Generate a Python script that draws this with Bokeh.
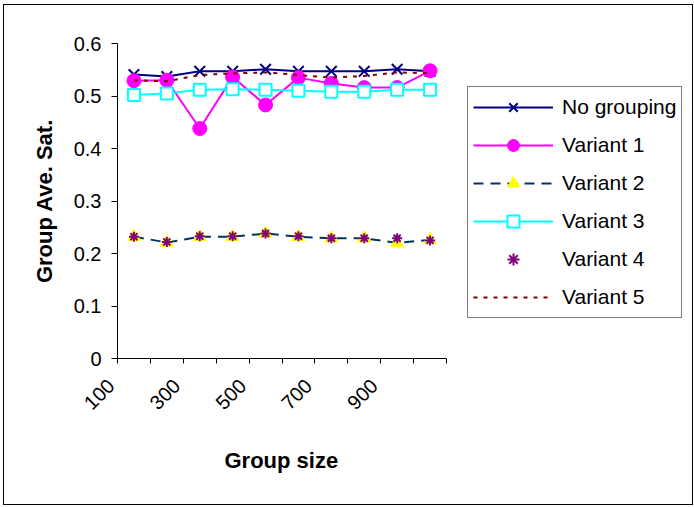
from bokeh.plotting import figure
from bokeh.models import Range1d, FixedTicker, CustomJSTickFormatter, Legend, LegendItem, Title
from bokeh.embed import file_html
from bokeh.resources import INLINE
import math

# ---- data ----
group_sizes = [100, 200, 300, 400, 500, 600, 700, 800, 900, 1000]
x_labels = ["100", "300", "500", "700", "900"]
no_grouping = [0.541, 0.537, 0.547, 0.547, 0.551, 0.547, 0.547, 0.547, 0.551, 0.547]
variant1 = [0.529, 0.530, 0.438, 0.536, 0.483, 0.535, 0.524, 0.516, 0.516, 0.548]
variant2 = [0.232, 0.221, 0.232, 0.232, 0.238, 0.232, 0.229, 0.229, 0.220, 0.226]
variant3 = [0.502, 0.505, 0.512, 0.513, 0.512, 0.510, 0.508, 0.508, 0.512, 0.512]
variant4 = [0.232, 0.222, 0.233, 0.233, 0.238, 0.233, 0.229, 0.229, 0.229, 0.225]
variant5 = [0.530, 0.528, 0.540, 0.543, 0.545, 0.540, 0.535, 0.538, 0.545, 0.543]
y_ticks = [0, 0.1, 0.2, 0.3, 0.4, 0.5, 0.6]

# category positions (centres of category slots)
n_cat = len(group_sizes)
xs = [i + 0.5 for i in range(n_cat)]

FONT = "Liberation Sans"

# layout (pixels)
W, H = 690, 501
MB_LEFT, MB_TOP, MB_RIGHT = 113, 38, 1
PLOT_W, PLOT_H = 329, 315
frame_w = W - MB_LEFT - MB_RIGHT
x_end = n_cat * frame_w / PLOT_W   # frame extends under the legend; axis bounded to categories
LABEL_SHIFT = 0.04                 # anchor of the rotated tick labels inside each category

p = figure(width=W, height=H, x_range=Range1d(0, x_end), y_range=Range1d(0, 0.6),
           output_backend="svg", toolbar_location=None,
           min_border_left=MB_LEFT, min_border_top=MB_TOP, min_border_right=MB_RIGHT,
           min_border_bottom=H - MB_TOP - PLOT_H)
p.styles = {"border": "1px solid #000000", "margin-left": "3px", "margin-top": "4px"}
p.outline_line_color = None
p.xgrid.grid_line_color = None
p.ygrid.grid_line_color = None
p.background_fill_color = "white"
p.border_fill_color = "white"

# x axis
xa = p.xaxis[0]
xa.bounds = (0, n_cat)
label_ticks = [group_sizes.index(int(s)) + LABEL_SHIFT for s in x_labels]
xa.ticker = FixedTicker(ticks=label_ticks, minor_ticks=list(range(n_cat + 1)))
xa.formatter = CustomJSTickFormatter(
    args=dict(sizes=group_sizes),
    code="return String(sizes[Math.round(tick - (%f))]) + '\\u00a0\\u00a0';" % LABEL_SHIFT)
xa.major_tick_in = 0
xa.major_tick_out = 0
xa.major_tick_line_color = None
xa.minor_tick_in = 0
xa.minor_tick_out = 5
xa.minor_tick_line_color = "black"
xa.axis_line_color = "black"
xa.major_label_orientation = math.pi / 4
xa.major_label_text_font = FONT
xa.major_label_text_font_size = "20px"
xa.major_label_text_color = "black"
xa.major_label_standoff = 11

x_title = Title(text="Group size", align="left", offset=107, standoff=42,
                text_font=FONT, text_font_size="22px", text_font_style="bold", text_color="black")
p.add_layout(x_title, "below")

# y axis
ya = p.yaxis[0]
ya.ticker = FixedTicker(ticks=y_ticks, minor_ticks=[])
ya.formatter = CustomJSTickFormatter(code="return tick == 0 ? '0' : tick.toFixed(1);")
ya.major_tick_in = 0
ya.major_tick_out = 6
ya.major_tick_line_color = "black"
ya.axis_line_color = "black"
ya.major_label_text_font = FONT
ya.major_label_text_font_size = "20px"
ya.major_label_text_color = "black"
ya.major_label_standoff = 10
ya.axis_label = "Group Ave. Sat."
ya.axis_label_text_font = FONT
ya.axis_label_text_font_size = "22px"
ya.axis_label_text_font_style = "bold"
ya.axis_label_text_color = "black"
ya.axis_label_standoff = 14

# series
l0 = p.line(xs, no_grouping, line_color="#000080", line_width=2)
m0 = p.scatter(xs, no_grouping, marker="x", size=15, line_color="#000080", line_width=2)

l1 = p.line(xs, variant1, line_color="#FF00FF", line_width=2)
m1 = p.scatter(xs, variant1, marker="circle", size=14, line_color="#FF00FF", fill_color="#FF00FF")

l2 = p.line(xs, variant2, line_color="#003366", line_width=2, line_dash="10 7")
m2 = p.scatter(xs, variant2, marker="triangle", size=13, line_color="#FFFF00", fill_color="#FFFF00")

l3 = p.line(xs, variant3, line_color="#00FFFF", line_width=2)
m3 = p.scatter(xs, variant3, marker="square", size=12, line_color="#00FFFF", fill_color="white", line_width=2)

m4 = p.scatter(xs, variant4, marker="asterisk", size=10, line_color="#800080", line_width=2)

l5 = p.line(xs, variant5, line_color="#800000", line_width=2, line_dash="4 6")

legend = Legend(items=[
    LegendItem(label="No grouping", renderers=[l0, m0]),
    LegendItem(label="Variant 1", renderers=[l1, m1]),
    LegendItem(label="Variant 2", renderers=[l2, m2]),
    LegendItem(label="Variant 3", renderers=[l3, m3]),
    LegendItem(label="Variant 4", renderers=[m4]),
    LegendItem(label="Variant 5", renderers=[l5]),
], location=(350, 40))
legend.border_line_color = "black"
legend.border_line_width = 1
legend.background_fill_color = "white"
legend.background_fill_alpha = 1
legend.label_text_font = FONT
legend.label_text_font_size = "21px"
legend.label_text_color = "black"
legend.glyph_width = 80
legend.glyph_height = 30
legend.label_height = 30
legend.spacing = 8
legend.padding = 5
legend.margin = 0
legend.label_standoff = 9
p.add_layout(legend, "center")

open("out.html", "w").write(file_html(p, INLINE))
